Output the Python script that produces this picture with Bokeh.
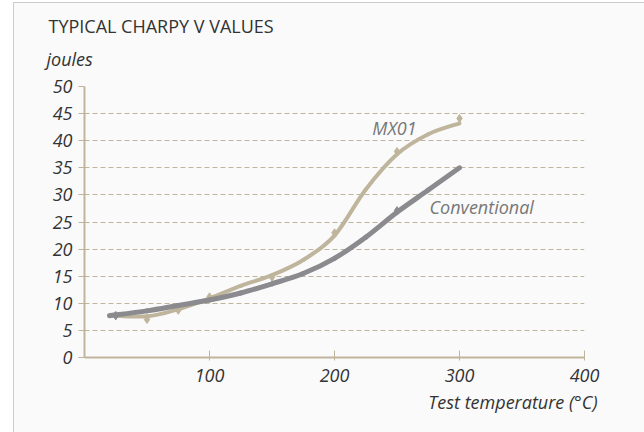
from bokeh.plotting import figure
from bokeh.models import Range1d, Label, FixedTicker, Title
from bokeh.embed import file_html
from bokeh.resources import INLINE

# ---- data ----
curve_temp = [20, 50, 75, 100, 125, 150, 175, 200, 225, 250, 275, 300]
mx01_curve = [7.8, 7.6, 8.9, 10.9, 13.2, 15.2, 18.0, 22.5, 31.0, 37.5, 41.2, 43.2]
conv_curve = [7.7, 8.6, 9.6, 10.6, 11.9, 13.6, 15.5, 18.3, 22.2, 26.8, 30.9, 35.0]

mx01_pts_temp = [25, 50, 75, 100, 150, 200, 250, 300]
mx01_pts_val = [7.8, 7.0, 8.7, 11.2, 14.8, 23.0, 38.0, 44.1]
conv_pts_temp = [25, 250]
conv_pts_val = [7.7, 27.1]

x_ticks = [100, 200, 300, 400]
y_ticks = [0, 5, 10, 15, 20, 25, 30, 35, 40, 45, 50]

TAN = "#bfb59c"
GREY = "#8a8a8f"
TXT = "#333333"
FONT = "Open Sans"


def smooth_segments(xs, ys):
    """Catmull-Rom control points so the read values are joined smoothly."""
    n = len(xs)
    out = dict(x0=[], y0=[], x1=[], y1=[], cx0=[], cy0=[], cx1=[], cy1=[])
    for i in range(n - 1):
        a = max(i - 1, 0)
        d = min(i + 2, n - 1)
        out["x0"].append(xs[i]); out["y0"].append(ys[i])
        out["x1"].append(xs[i + 1]); out["y1"].append(ys[i + 1])
        out["cx0"].append(xs[i] + (xs[i + 1] - xs[a]) / 6)
        out["cy0"].append(ys[i] + (ys[i + 1] - ys[a]) / 6)
        out["cx1"].append(xs[i + 1] - (xs[d] - xs[i]) / 6)
        out["cy1"].append(ys[i + 1] - (ys[d] - ys[i]) / 6)
    return out


p = figure(frame_width=500, frame_height=271,
           min_border_left=70, min_border_right=68,
           min_border_top=83, min_border_bottom=75,
           x_range=Range1d(0, 400), y_range=Range1d(0, 50),
           output_backend="svg", toolbar_location=None)
p.styles = {"margin-left": "13px", "margin-top": "2px",
            "border-left": "1px solid #cccccc",
            "border-top": "1px solid #cccccc",
            "background-color": "#fafafa"}
p.background_fill_color = "#fafafa"
p.border_fill_color = "#fafafa"
p.outline_line_color = None

p.xgrid.grid_line_color = None
p.ygrid.grid_line_color = TAN
p.ygrid.grid_line_dash = "5 3"
p.ygrid.grid_line_width = 1

for ax in (p.xaxis[0], p.yaxis[0]):
    ax.axis_line_color = TAN
    ax.axis_line_width = 2
    ax.major_tick_line_color = TAN
    ax.major_tick_line_width = 1
    ax.minor_tick_line_color = None
    ax.major_label_text_font = FONT
    ax.major_label_text_font_style = "italic"
    ax.major_label_text_font_size = "18px"
    ax.major_label_text_color = TXT

p.xaxis.ticker = FixedTicker(ticks=x_ticks)
p.yaxis.ticker = FixedTicker(ticks=y_ticks)
p.xaxis.major_tick_in = 7
p.xaxis.major_tick_out = 3
p.xaxis.major_label_standoff = 8
p.yaxis.major_tick_in = 0
p.yaxis.major_tick_out = 6
p.yaxis.major_label_standoff = 6

p.bezier(source=smooth_segments(curve_temp, mx01_curve),
         x0="x0", y0="y0", x1="x1", y1="y1",
         cx0="cx0", cy0="cy0", cx1="cx1", cy1="cy1",
         line_color=TAN, line_width=4, line_cap="round")
p.scatter(mx01_pts_temp, mx01_pts_val, marker="diamond", size=8,
          fill_color=TAN, line_color=TAN)
p.bezier(source=smooth_segments(curve_temp, conv_curve),
         x0="x0", y0="y0", x1="x1", y1="y1",
         cx0="cx0", cy0="cy0", cx1="cx1", cy1="cy1",
         line_color=GREY, line_width=5, line_cap="round")
p.scatter(conv_pts_temp, conv_pts_val, marker="diamond", size=8,
          fill_color=GREY, line_color=GREY)

p.add_layout(Label(x=248, y=42.4, text="MX01", text_font=FONT,
                   text_font_style="italic", text_font_size="18px",
                   text_color="#777777", text_align="center",
                   text_baseline="middle"))
p.add_layout(Label(x=276, y=27.7, text="Conventional", text_font=FONT,
                   text_font_style="italic", text_font_size="18px",
                   text_color="#777777", text_align="left",
                   text_baseline="middle"))

p.add_layout(Title(text="joules", align="left", offset=-38,
                   text_font=FONT, text_font_style="italic",
                   text_font_size="18px", text_color=TXT,
                   standoff=32), "above")
p.add_layout(Title(text="TYPICAL CHARPY V VALUES", align="left", offset=-36,
                   text_font=FONT, text_font_size="18px", text_color=TXT,
                   text_font_style="normal", standoff=-19), "above")
p.add_layout(Title(text="Test temperature (°C)", align="right", offset=-13,
                   text_font=FONT, text_font_style="italic",
                   text_font_size="18px", text_color=TXT,
                   standoff=7), "below")

open("out.html", "w").write(file_html(p, INLINE))
